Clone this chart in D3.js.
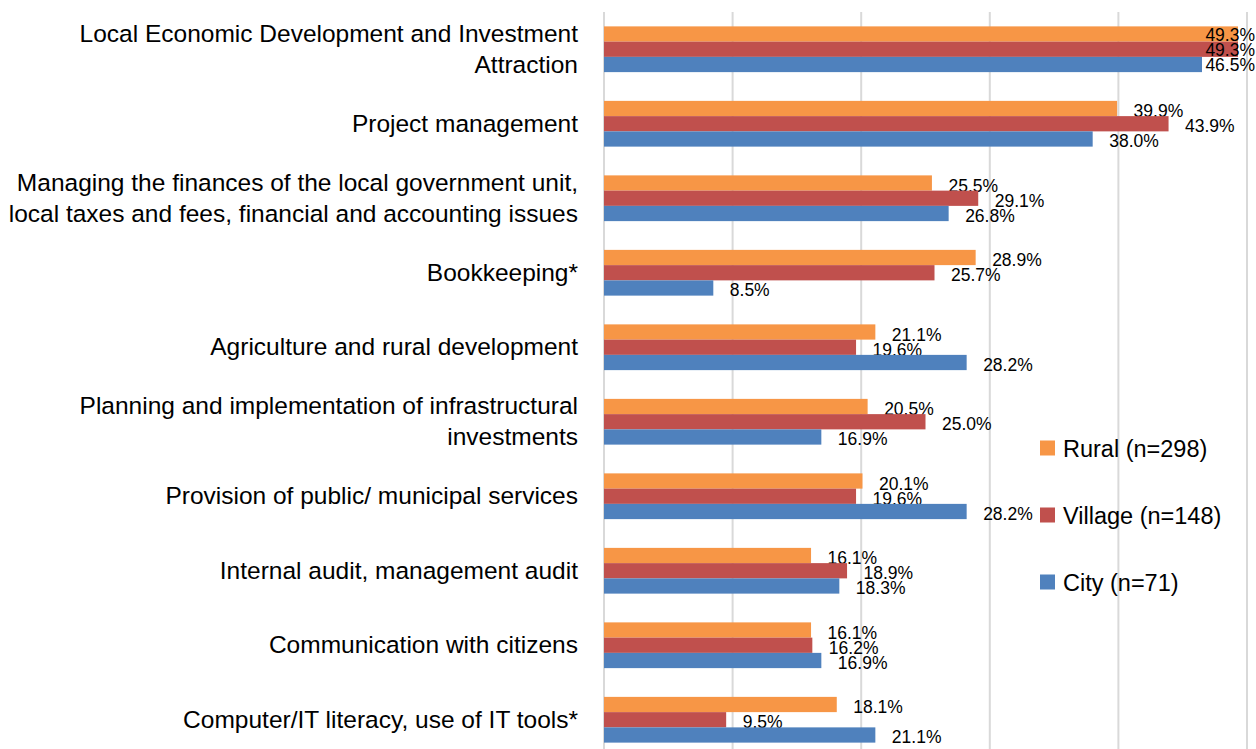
<!DOCTYPE html>
<html>
<head>
<meta charset="utf-8">
<script src="https://cdn.jsdelivr.net/npm/d3@7"></script>
<style>
  html, body { margin: 0; padding: 0; background: #fff; }
  svg { display: block; font-family: "Liberation Sans", Arial, sans-serif; }
</style>
</head>
<body>
<svg id="chart" width="1256" height="749"></svg>
<script>
// ---- data ----
const categories = [
  "Local Economic Development and Investment\nAttraction",
  "Project management",
  "Managing the finances of the local government unit,\nlocal taxes and fees, financial and accounting issues",
  "Bookkeeping*",
  "Agriculture and rural development",
  "Planning and implementation of infrastructural\ninvestments",
  "Provision of public/ municipal services",
  "Internal audit, management audit",
  "Communication with citizens",
  "Computer/IT literacy, use of IT tools*"
];
const seriesNames = ["Rural (n=298)", "Village (n=148)", "City (n=71)"];
const rural   = [49.3, 39.9, 25.5, 28.9, 21.1, 20.5, 20.1, 16.1, 16.1, 18.1];
const village = [49.3, 43.9, 29.1, 25.7, 19.6, 25.0, 19.6, 18.9, 16.2, 9.5];
const city    = [46.5, 38.0, 26.8, 8.5, 28.2, 16.9, 28.2, 18.3, 16.9, 21.1];
const xTicks  = [0, 10, 20, 30, 40, 50];
const colors  = ["#F79646", "#C0504D", "#4F81BD"];

const seriesValues = [rural, village, city];

// ---- layout ----
const W = 1256, H = 749;
const plot = { left: 604, right: 1247, top: 12, bottom: 757 };
const svg = d3.select("#chart");

const x = d3.scaleLinear().domain([0, 50]).range([plot.left, plot.right]);
const y = d3.scaleBand().domain(categories).range([plot.top, plot.bottom])
  .paddingInner(0.386).paddingOuter(0.193);
const ySub = d3.scaleBand().domain(seriesNames).range([0, y.bandwidth()]);

// gridlines
svg.append("g").selectAll("line").data(xTicks).join("line")
  .attr("x1", d => x(d)).attr("x2", d => x(d))
  .attr("y1", plot.top).attr("y2", H)
  .attr("stroke", "#D9D9D9").attr("stroke-width", 2);

// category labels
const catG = svg.append("g");
categories.forEach(c => {
  const lines = c.split("\n");
  const lh = 31;
  const cy = y(c) + y.bandwidth() / 2;
  const t = catG.append("text")
    .attr("text-anchor", "end")
    .attr("font-size", 24.5)
    .attr("fill", "#000");
  lines.forEach((ln, i) => {
    t.append("tspan")
      .attr("x", 578)
      .attr("y", cy + 8 + (i - (lines.length - 1) / 2) * lh)
      .text(ln);
  });
});

// bars and labels, per series
seriesNames.forEach((s, si) => {
  const g = svg.append("g");
  const vals = seriesValues[si];
  g.selectAll("rect").data(categories).join("rect")
    .attr("x", x(0))
    .attr("y", (c) => y(c) + ySub(s))
    .attr("width", (c, i) => x(vals[i]) - x(0))
    .attr("height", ySub.bandwidth())
    .attr("fill", colors[si]);
  g.selectAll("text").data(categories).join("text")
    .attr("font-size", 17.5)
    .attr("fill", "#000")
    .text((c, i) => vals[i].toFixed(1) + "%")
    .each(function (c, i) {
      const el = d3.select(this);
      const w = this.getComputedTextLength();
      const cy = y(c) + ySub(s) + ySub.bandwidth() / 2;
      let tx = x(vals[i]) + 16.5;
      let dy = 8.5;
      if (tx + w > W - 1) { tx = W - 1 - w; dy = 6.5; }
      el.attr("x", tx).attr("y", cy + dy);
    });
});

// legend
const leg = svg.append("g");
seriesNames.forEach((s, i) => {
  const cy = 448 + i * 67;
  leg.append("rect").attr("x", 1040).attr("y", cy - 7.5)
    .attr("width", 15).attr("height", 15).attr("fill", colors[i]);
  leg.append("text").attr("x", 1063).attr("y", cy + 8.5)
    .attr("font-size", 23.5).attr("fill", "#000").text(s);
});
</script>
</body>
</html>
